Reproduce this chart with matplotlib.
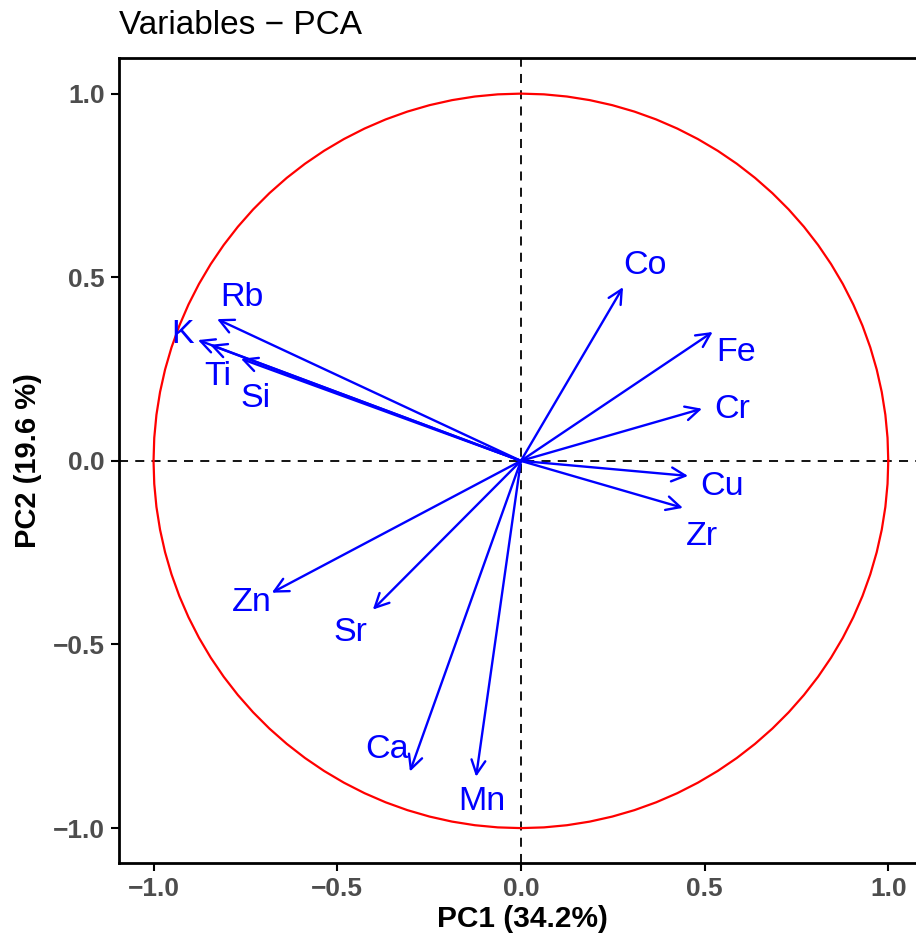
import numpy as np
import matplotlib
matplotlib.use("Agg")
import matplotlib.pyplot as plt
from matplotlib import font_manager

# Variable loadings on the first two principal components
variables = ["Co", "Fe", "Cr", "Cu", "Zr", "Rb", "K", "Ti", "Si", "Zn", "Sr", "Ca", "Mn"]
pc1 = [0.278, 0.522, 0.493, 0.455, 0.441, -0.827, -0.879, -0.846, -0.762, -0.678, -0.403, -0.302, -0.122]
pc2 = [0.473, 0.351, 0.142, -0.041, -0.128, 0.386, 0.329, 0.316, 0.278, -0.359, -0.405, -0.846, -0.860]

# Label anchor points (repelled away from arrow tips)
label_x = [0.337, 0.585, 0.574, 0.547, 0.493, -0.759, -0.922, -0.824, -0.721, -0.732, -0.463, -0.365, -0.106]
label_y = [0.533, 0.294, 0.141, -0.071, -0.207, 0.444, 0.343, 0.229, 0.169, -0.386, -0.468, -0.786, -0.928]

ticks = [-1.0, -0.5, 0.0, 0.5, 1.0]
tick_labels = ["\u22121.0", "\u22120.5", "0.0", "0.5", "1.0"]

installed = {f.name for f in font_manager.fontManager.ttflist}
base = "Liberation Sans" if "Liberation Sans" in installed else "DejaVu Sans"
plt.rcParams["font.family"] = [base, "DejaVu Sans"]

fig = plt.figure(figsize=(9.16, 9.42), dpi=100)
ax = fig.add_axes([119 / 916, 1 - 863 / 942, 806 / 916, 805 / 942])
ax.set_xlim(-1.094, 1.1)
ax.set_ylim(-1.095, 1.097)

# Correlation circle
theta = np.linspace(0, 2 * np.pi, 101)
ax.plot(np.cos(theta), np.sin(theta), color="red", lw=1.6, zorder=2)

# Reference lines through the origin
ax.axhline(0, color="black", lw=1.3, ls=(0, (5, 4)), zorder=1)
ax.axvline(0, color="black", lw=1.3, ls=(0, (5, 4)), zorder=1)

# Loading arrows and their labels
for name, x, y, lx, ly in zip(variables, pc1, pc2, label_x, label_y):
    ax.annotate("", xy=(x, y), xytext=(0, 0),
                arrowprops=dict(arrowstyle="->,head_length=0.5,head_width=0.25",
                                color="blue", lw=1.7, shrinkA=0, shrinkB=0,
                                mutation_scale=20), zorder=3)
    ax.text(lx, ly, name, color="blue", fontsize=24.5, ha="center", va="center", zorder=4)

ax.set_xticks(ticks)
ax.set_xticklabels(tick_labels, fontweight="bold", color="#4D4D4D", fontsize=19)
ax.set_yticks(ticks)
ax.set_yticklabels(tick_labels, fontweight="bold", color="#4D4D4D", fontsize=19)
ax.tick_params(direction="out", length=6, width=1.5, color="black", pad=4)

for s in ax.spines.values():
    s.set_linewidth(2)
    s.set_color("black")

ax.set_xlabel("PC1 (34.2%)", fontweight="bold", fontsize=21.5, labelpad=3)
ax.set_ylabel("PC2 (19.6 %)", fontweight="bold", fontsize=21, labelpad=8)
ax.set_title("Variables \u2212 PCA", loc="left", fontsize=24, pad=17)

fig.savefig("out.png", dpi=100)
